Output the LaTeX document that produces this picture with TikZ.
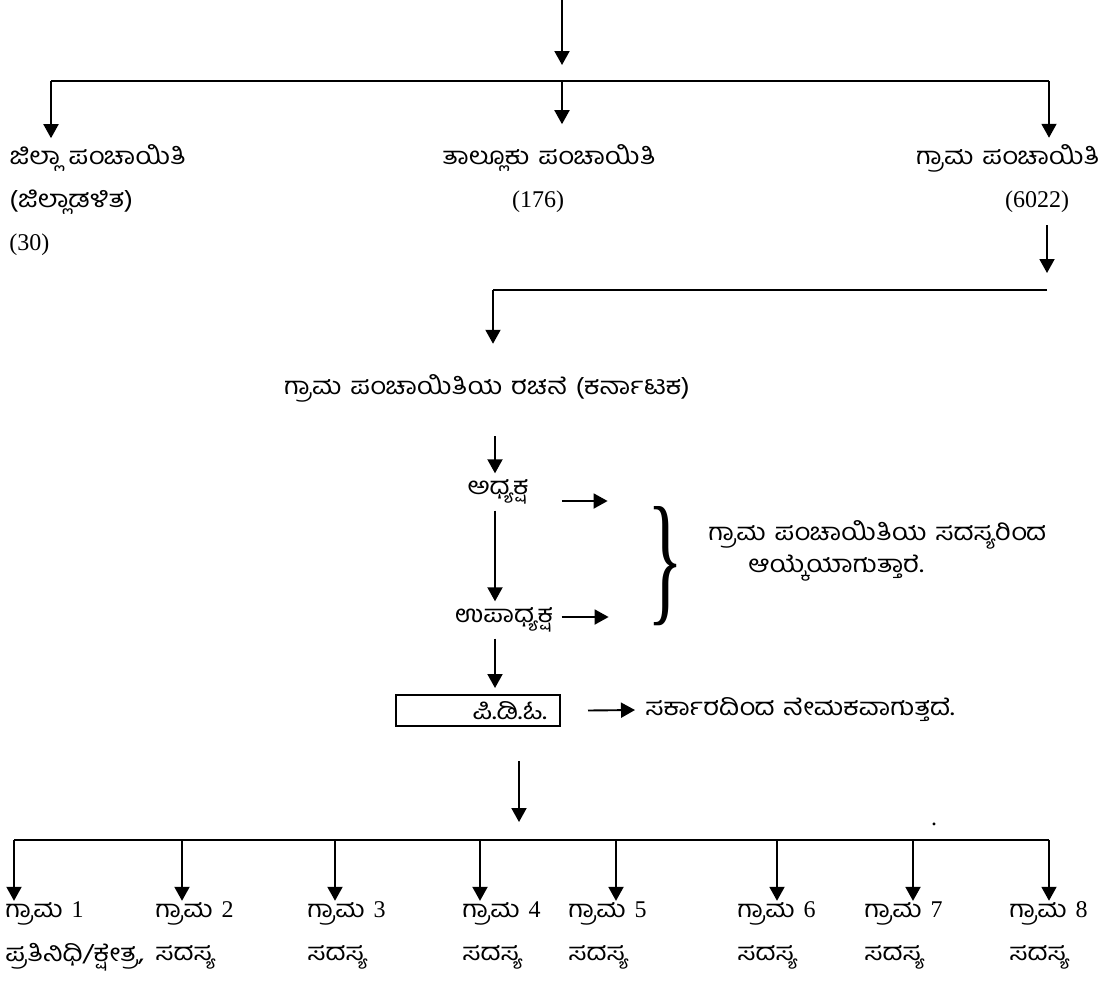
\documentclass[tikz,border=0pt]{standalone}
\usepackage{fontspec}
\setmainfont{Liberation Serif}
\newfontfamily\kn[Script=Kannada,FakeStretch=1.14,WordSpace=1.3]{Hind Mysuru}
\newfontfamily\tn{Liberation Serif}
\usetikzlibrary{arrows.meta}

\tikzset{
  arr/.style={line width=0.95pt,-{Triangle[width=7.5pt,length=7pt]}},
  bar/.style={line width=1.4pt},
  txt/.style={inner sep=0pt,font=\kn\fontsize{12}{14}\selectfont},
  num/.style={inner sep=0pt,font=\tn\fontsize{12}{14}\selectfont}
}

\begin{document}
\begin{tikzpicture}[x=0.5pt,y=-0.5pt]
  \useasboundingbox (0,0) rectangle (1110,981);
  % first level
  \coordinate (in) at (562,0);
  \coordinate (b1l) at (51,81);
  \coordinate (b1m) at (562,81);
  \coordinate (b1r) at (1049,81);
  \node[txt,anchor=west] (zp) at (9,158) {ಜಿಲ್ಲಾ ಪಂಚಾಯಿತಿ};
  \node[txt,anchor=west] (zpa) at (9,202) {(ಜಿಲ್ಲಾಡಳಿತ)};
  \node[num,anchor=west] (zpn) at (9,245) {(30)};
  \node[txt] (tp) at (549,158) {ತಾಲ್ಲೂಕು ಪಂಚಾಯಿತಿ};
  \node[num] (tpn) at (538,202) {(176)};
  \node[txt,anchor=east] (gp) at (1100,158) {ಗ್ರಾಮ ಪಂಚಾಯಿತಿ};
  \node[num] (gpn) at (1037,202) {(6022)};
  \draw[arr] (in) -- ([yshift=8pt]b1m);
  \draw[bar] (b1l) -- (b1r);
  \draw[arr] (b1l) -- ([yshift=3pt]b1l |- zp.north);
  \draw[arr] (b1m) -- ([yshift=10pt]b1m |- tp.north);
  \draw[arr] (b1r) -- ([yshift=3pt]b1r |- gp.north);
  % gram panchayat
  \coordinate (b2r) at (1047,290);
  \coordinate (b2l) at (493,290);
  \coordinate (mid) at (495,0);
  \node[txt] (rc) at (487,388) {ಗ್ರಾಮ ಪಂಚಾಯಿತಿಯ ರಚನೆ (ಕರ್ನಾಟಕ)};
  \draw[arr] ([yshift=-6pt]gpn.south -| b2r) -- ([yshift=8.5pt]b2r);
  \draw[bar] (b2r) -- (b2l);
  \draw[arr] (b2l) -- ([yshift=15pt]b2l |- rc.north);
  \node[txt] (ad) at (498,492) {ಅಧ್ಯಕ್ಷ};
  \node[txt] (up) at (504,620) {ಉಪಾಧ್ಯಕ್ಷ};
  \node[draw,line width=1pt,inner sep=0pt,inner xsep=6.5pt,text width=69pt,
    align=right,minimum height=15.5pt,font=\kn\fontsize{12}{14}\selectfont]
    (pdo) at (478,710.5) {ಪಿ.ಡಿ.ಓ.};
  \draw[arr] ([yshift=-17pt]rc.south -| mid) -- ([yshift=3pt]ad.north -| mid);
  \draw[arr] ([yshift=-3pt]ad.south -| mid) -- ([yshift=3pt]up.north -| mid);
  \draw[arr] ([yshift=-3pt]up.south -| mid) -- ([yshift=3pt]pdo.north -| mid);
  % brace
  \node[inner sep=0pt] (br) at (665,566) {\resizebox{18pt}{50pt}{\}}};
  \node[txt,anchor=west] (el1) at (708,535) {ಗ್ರಾಮ ಪಂಚಾಯಿತಿಯ ಸದಸ್ಯರಿಂದ};
  \node[txt,anchor=west] (el2) at (748,568) {ಆಯ್ಕೆಯಾಗುತ್ತಾರೆ.};
  \draw[arr] ([xshift=16.5pt,yshift=-4.5pt]ad.east) -- ([xshift=-19.5pt,yshift=-4.5pt]ad.east -| br.west);
  \draw[arr] ([xshift=4pt,yshift=1.5pt]up.east) -- ([xshift=-19pt,yshift=1.5pt]up.east -| br.west);
  \node[txt,anchor=west] (ap) at (645,710) {ಸರ್ಕಾರದಿಂದ ನೇಮಕವಾಗುತ್ತದೆ.};
  \draw[arr] ([xshift=13.5pt]pdo.east) -- ([xshift=-5pt]ap.west);
  % members
  \coordinate (b3l) at (14,840);
  \coordinate (b3m) at (519,840);
  \coordinate (b3r) at (1049,840);
  \draw[arr] ([yshift=-17pt]pdo.south -| b3m) -- ([yshift=9pt]b3m);
  \draw[bar] (b3l) -- (b3r);
  \foreach \ax/\lx/\n in {14/5/1,182/155/2,335/307/3,480/462/4,616/568/5,777/737/6,913/864/7,1049/1009/8}{
    \coordinate (c\n) at (\ax,840);
    \node[txt,anchor=west] (g\n) at (\lx,913) {ಗ್ರಾಮ {\tn\n}};
    \draw[arr] (c\n) -- (c\n |- g\n.north);
  }
  \node[txt,anchor=west] (s1) at (5,957) {ಪ್ರತಿನಿಧಿ/ಕ್ಷೇತ್ರ,};
  \foreach \lx/\n in {155/2,307/3,462/4,568/5,737/6,864/7,1009/8}
    \node[txt,anchor=west] (s\n) at (\lx,957) {ಸದಸ್ಯ};
  \node[inner sep=0pt,font=\fontsize{12}{14}\selectfont] (dot) at (934,824) {.};
\end{tikzpicture}
\end{document}
